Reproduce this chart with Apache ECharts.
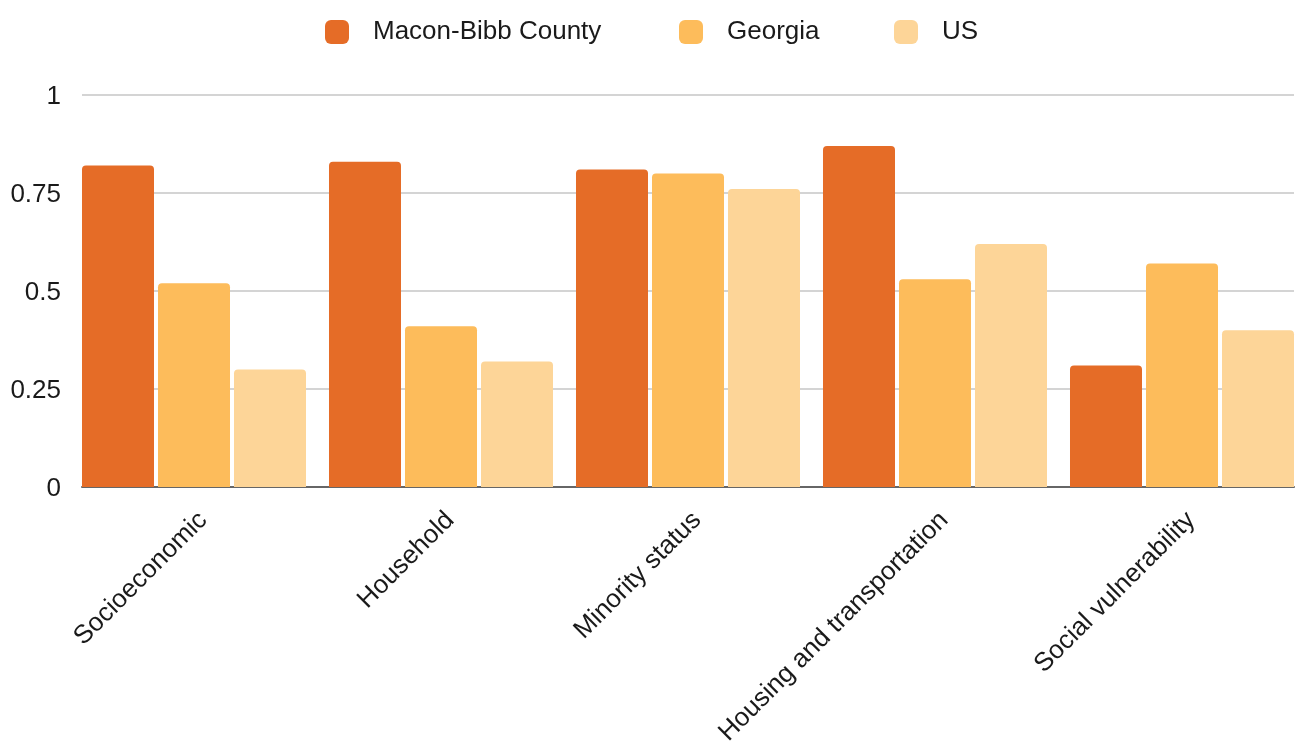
<!DOCTYPE html>
<html>
<head>
<meta charset="utf-8">
<script src="https://cdn.jsdelivr.net/npm/echarts@6/dist/echarts.min.js"></script>
<style>
  html, body { margin: 0; padding: 0; background: #fff; overflow: hidden; }
  #chart { width: 1306px; height: 743px; }
</style>
</head>
<body>
<div id="chart"></div>
<script>
// Social vulnerability index themes
const categories = ['Socioeconomic', 'Household', 'Minority status', 'Housing and transportation', 'Social vulnerability'];
const seriesNames = ['Macon-Bibb County', 'Georgia', 'US'];
const maconBibb = [0.82, 0.83, 0.81, 0.87, 0.31];
const georgia = [0.52, 0.41, 0.80, 0.53, 0.57];
const us = [0.30, 0.32, 0.76, 0.62, 0.40];
const yTicks = [0, 0.25, 0.5, 0.75, 1];

const colors = ['#E56C27', '#FDBC5B', '#FDD598'];
const font = "'Liberation Sans', Arial, sans-serif";
const legendLefts = [325, 679, 894];

const chart = echarts.init(document.getElementById('chart'), null, { renderer: 'canvas' });

const plotTop = 95, plotBottom = 256;
const values = [maconBibb, georgia, us];

// one legend entry per component so each sits at its own x
const legends = seriesNames.map((name, i) => ({
  top: 19,
  left: legendLefts[i],
  padding: 0,
  itemWidth: 24,
  itemHeight: 24,
  icon: 'roundRect',
  data: [name],
  textStyle: { fontSize: 26, color: '#1a1a1a', fontFamily: font, padding: [0, 0, 0, 19] }
}));

chart.setOption({
  animation: false,
  backgroundColor: '#fff',
  color: colors,
  textStyle: { fontFamily: font },
  legend: legends,
  grid: [
    // frame for gridlines, y labels and baseline
    { left: 82, width: 1212, top: plotTop, bottom: plotBottom, outerBoundsMode: 'none', containLabel: false },
    // bars, with the outer groups flush to the frame edges
    { left: 70.5, width: 1235, top: plotTop, bottom: plotBottom, outerBoundsMode: 'none', containLabel: false }
  ],
  xAxis: [
    {
      type: 'category', gridIndex: 0, data: categories,
      axisLine: { show: true, lineStyle: { color: '#666', width: 2 } },
      axisTick: { show: false }, axisLabel: { show: false }, splitLine: { show: false }
    },
    {
      type: 'category', gridIndex: 1, data: categories,
      axisLine: { show: false }, axisTick: { show: false },
      axisLabel: {
        rotate: 45, fontSize: 26, color: '#1a1a1a', fontFamily: font,
        margin: 20, interval: 0, verticalAlign: 'top'
      }
    }
  ],
  yAxis: [
    {
      type: 'value', gridIndex: 0, min: yTicks[0], max: yTicks[yTicks.length - 1], interval: 0.25,
      axisLine: { show: false }, axisTick: { show: false },
      axisLabel: {
        fontSize: 26, color: '#1a1a1a', fontFamily: font, margin: 21,
        formatter: '{v|{value}}',
        rich: { v: { fontSize: 26, color: '#1a1a1a', fontFamily: font, padding: [4, 0, 0, 0] } }
      },
      splitLine: { lineStyle: { color: '#c6c6c6', width: 1.5 } }
    },
    {
      type: 'value', gridIndex: 1, min: 0, max: 1, show: false, splitLine: { show: false }
    }
  ],
  series: seriesNames.map((name, i) => ({
    name: name,
    type: 'bar',
    xAxisIndex: 1,
    yAxisIndex: 1,
    data: values[i],
    barCategoryGap: '9.31%',
    barGap: '5.56%',
    itemStyle: { color: colors[i], borderRadius: [4, 4, 0, 0] }
  }))
});
</script>
</body>
</html>
